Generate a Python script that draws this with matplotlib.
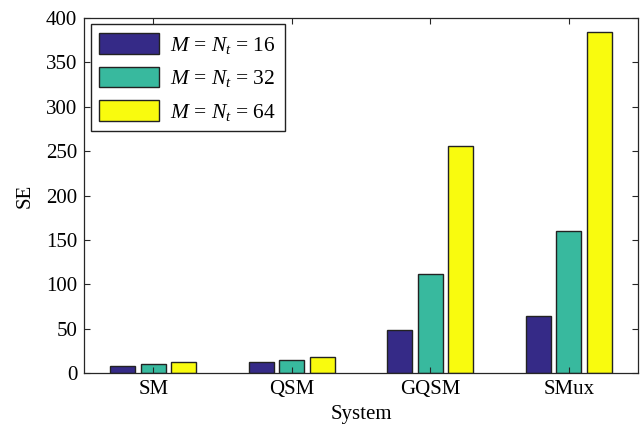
import matplotlib
matplotlib.use('Agg')

import matplotlib.pyplot as plt
import numpy as np

systems = ['SM', 'QSM', 'GQSM', 'SMux']
se_16 = [8, 12, 48, 64]
se_32 = [10, 15, 112, 160]
se_64 = [12, 18, 256, 384]
labels = [r'$M$ = $N_t$ = 16', r'$M$ = $N_t$ = 32', r'$M$ = $N_t$ = 64']
colors = ['#352a87', '#38b99e', '#f9fb0e']

plt.rcParams['font.family'] = 'Liberation Serif'
plt.rcParams['mathtext.fontset'] = 'custom'
plt.rcParams['mathtext.rm'] = 'Liberation Serif'
plt.rcParams['mathtext.it'] = 'Liberation Serif:italic'

fig = plt.figure(figsize=(6.42, 4.29), dpi=100)
ax = fig.add_axes([0.131, 0.1305, 0.863, 0.8275])

x = np.arange(1, len(systems) + 1)
width = 0.18
offset = 0.22
for i, (vals, lab, col) in enumerate(zip([se_16, se_32, se_64], labels, colors)):
    ax.bar(x + (i - 1) * offset, vals, width, color=col, edgecolor='#222222',
           linewidth=1.0, label=lab)

ax.set_xlim(0.5, 4.5)
ax.set_ylim(0, 400)
ax.set_xticks(x)
ax.set_xticklabels(systems)
ax.set_yticks(np.arange(0, 401, 50))
ax.tick_params(direction='in', top=True, right=True, labelsize=15,
               length=4, width=0.8, colors='#262626', pad=5)
for lab in ax.get_xticklabels() + ax.get_yticklabels():
    lab.set_color('black')
for s in ax.spines.values():
    s.set_color('#262626')
    s.set_linewidth(0.9)

ax.set_xlabel('System', fontsize=15, labelpad=4)
ax.set_ylabel('SE', fontsize=15, labelpad=8)

leg = ax.legend(loc='upper left', fontsize=15.5, handlelength=2.8, handleheight=1.1,
                borderpad=0.4, labelspacing=0.5, handletextpad=0.5,
                fancybox=False, framealpha=1, edgecolor='#222222',
                borderaxespad=0.3)
leg.get_frame().set_linewidth(1.0)

plt.savefig('out.png', dpi=100)
